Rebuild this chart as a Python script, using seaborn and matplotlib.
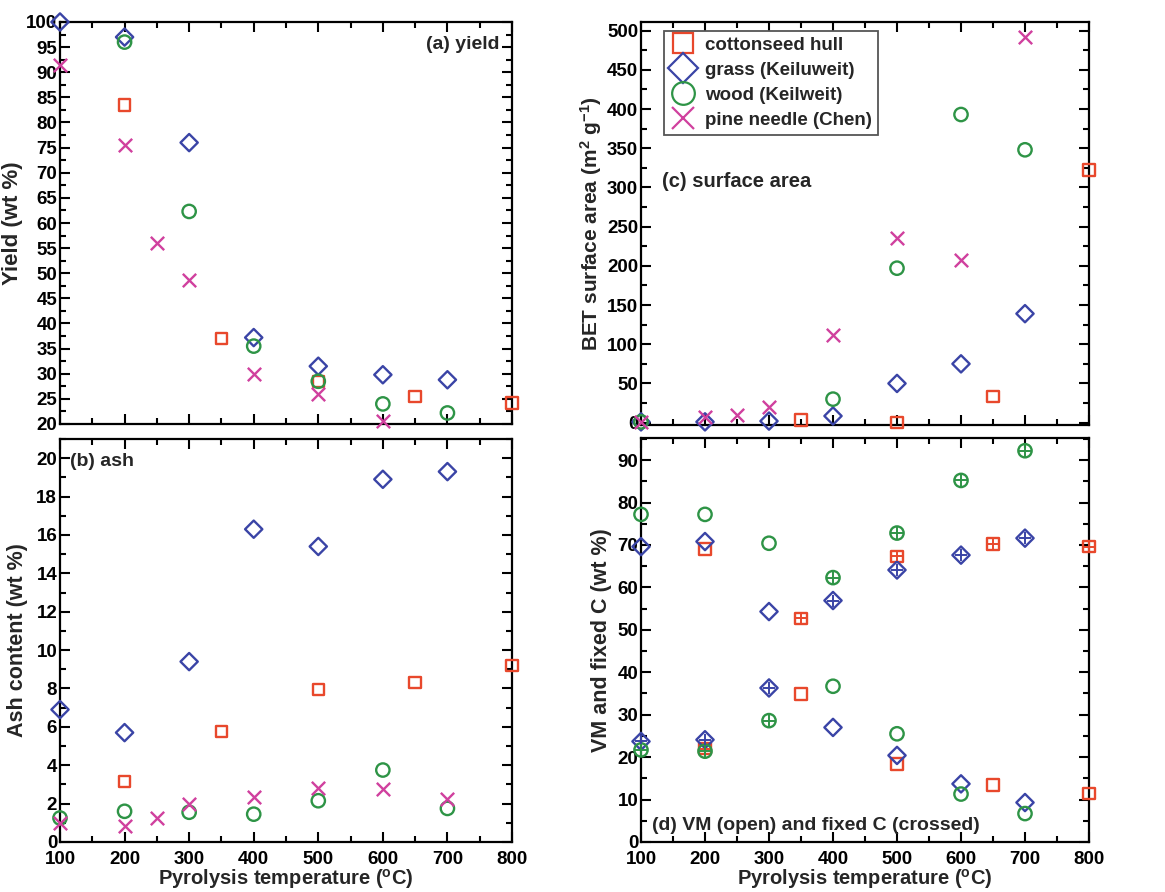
import numpy as np
import pandas as pd
import matplotlib
matplotlib.use("Agg")
import matplotlib.pyplot as plt
from matplotlib.ticker import MultipleLocator
from matplotlib.lines import Line2D
import seaborn as sns

# ---------------- data ----------------
materials = ["cottonseed hull", "grass (Keiluweit)", "wood (Keilweit)", "pine needle (Chen)"]

# (a) yield
cotton_T_yield = [200, 350, 500, 650, 800]
cotton_yield = [83.5, 37.0, 28.5, 25.5, 24.2]
grass_T_yield = [100, 200, 300, 400, 500, 600, 700]
grass_yield = [100.0, 97.0, 76.0, 37.2, 31.5, 29.8, 28.8]
wood_T_yield = [200, 300, 400, 500, 600, 700]
wood_yield = [96.0, 62.3, 35.5, 28.5, 24.0, 22.2]
pine_T_yield = [100, 200, 250, 300, 400, 500, 600]
pine_yield = [91.5, 75.5, 56.0, 48.7, 30.0, 26.0, 20.5]

# (b) ash
cotton_T_ash = [200, 350, 500, 650, 800]
cotton_ash = [3.15, 5.75, 7.95, 8.3, 9.2]
grass_T_ash = [100, 200, 300, 400, 500, 600, 700]
grass_ash = [6.9, 5.7, 9.4, 16.3, 15.4, 18.9, 19.3]
wood_T_ash = [100, 200, 300, 400, 500, 600, 700]
wood_ash = [1.25, 1.6, 1.55, 1.45, 2.15, 3.75, 1.75]
pine_T_ash = [100, 200, 250, 300, 400, 500, 600, 700]
pine_ash = [1.0, 0.85, 1.25, 2.0, 2.35, 2.8, 2.75, 2.25]

# (c) surface area
cotton_T_sa = [350, 500, 650, 800]
cotton_sa = [3.5, 0.0, 33.0, 322.0]
grass_T_sa = [100, 200, 300, 400, 500, 600, 700]
grass_sa = [1.0, 1.0, 2.0, 8.5, 50.0, 75.0, 139.0]
wood_T_sa = [100, 400, 500, 600, 700]
wood_sa = [1.0, 30.0, 197.0, 393.0, 348.0]
pine_T_sa = [100, 200, 250, 300, 400, 500, 600, 700]
pine_sa = [1.0, 7.0, 9.5, 20.0, 112.0, 236.0, 207.0, 492.0]

# (d) volatile matter (open) and fixed carbon (crossed)
cotton_T_vm = [200, 350, 500, 650, 800]
cotton_vm = [69.0, 34.9, 18.4, 13.4, 11.5]
cotton_fc = [22.0, 52.7, 67.3, 70.2, 69.6]
grass_T_vm = [100, 200, 300, 400, 500, 600, 700]
grass_vm = [69.6, 70.8, 54.3, 27.0, 20.4, 13.7, 9.3]
grass_fc = [23.7, 24.1, 36.3, 56.9, 64.1, 67.6, 71.6]
wood_T_vm = [100, 200, 300, 400, 500, 600, 700]
wood_vm = [77.2, 77.2, 70.4, 36.7, 25.5, 11.3, 6.7]
wood_fc = [21.7, 21.4, 28.6, 62.3, 72.8, 85.2, 92.2]

x_ticks = [100, 200, 300, 400, 500, 600, 700, 800]

# ---------------- style ----------------
colors = {materials[0]: "#E8482C", materials[1]: "#3A44A6",
          materials[2]: "#2E9446", materials[3]: "#D0409E"}
markers = {materials[0]: "s", materials[1]: "D", materials[2]: "o", materials[3]: "x"}
msize = {materials[0]: 8.2, materials[1]: 8.8, materials[2]: 9.6, materials[3]: 9.6}
plus_size = {materials[0]: 7.5, materials[1]: 9.0, materials[2]: 8.5}

sns.set_theme(style="ticks")
plt.rcParams["font.family"] = ["Liberation Sans", "DejaVu Sans"]
plt.rcParams["font.weight"] = "bold"
plt.rcParams["axes.labelweight"] = "bold"
plt.rcParams["mathtext.fontset"] = "custom"
plt.rcParams["mathtext.rm"] = "Liberation Sans:bold"
plt.rcParams["mathtext.bf"] = "Liberation Sans:bold"
plt.rcParams["mathtext.default"] = "bf"

fig = plt.figure(figsize=(11.65, 8.92), dpi=100)
W, H = 1165, 892


def axes_px(l, t, r, b):
    return fig.add_axes([l / W, 1 - b / H, (r - l) / W, (b - t) / H])


ax_a = axes_px(60, 22, 512, 424)
ax_b = axes_px(60, 439, 512, 842)
ax_c = axes_px(641, 22, 1089, 425)
ax_d = axes_px(641, 438, 1089, 842)


def frame(panel):
    df = []
    for mat, (T, v) in panel.items():
        df.append(pd.DataFrame({"T": T, "value": v, "material": mat}))
    return pd.concat(df, ignore_index=True)


def draw_open(ax, df, lw=1.7):
    for mat in materials:
        sub = df[df["material"] == mat]
        if sub.empty:
            continue
        m = markers[mat]
        kw = dict(x="T", y="value", data=sub, ax=ax, marker=m,
                  s=msize[mat] ** 2, linewidth=lw, clip_on=False, zorder=3, legend=False)
        if m == "x":
            sns.scatterplot(color=colors[mat], **kw)
        else:
            sns.scatterplot(color=colors[mat], facecolor="none",
                            edgecolor=colors[mat], **kw)


def draw_plus(ax, df):
    for mat in materials:
        sub = df[df["material"] == mat]
        if sub.empty:
            continue
        sns.scatterplot(x="T", y="value", data=sub, ax=ax, marker="+",
                        s=plus_size[mat] ** 2, color=colors[mat], linewidth=1.4,
                        clip_on=False, zorder=4, legend=False)


df_a = frame({materials[0]: (cotton_T_yield, cotton_yield),
              materials[1]: (grass_T_yield, grass_yield),
              materials[2]: (wood_T_yield, wood_yield),
              materials[3]: (pine_T_yield, pine_yield)})
df_b = frame({materials[0]: (cotton_T_ash, cotton_ash),
              materials[1]: (grass_T_ash, grass_ash),
              materials[2]: (wood_T_ash, wood_ash),
              materials[3]: (pine_T_ash, pine_ash)})
df_c = frame({materials[0]: (cotton_T_sa, cotton_sa),
              materials[1]: (grass_T_sa, grass_sa),
              materials[2]: (wood_T_sa, wood_sa),
              materials[3]: (pine_T_sa, pine_sa)})
df_vm = frame({materials[0]: (cotton_T_vm, cotton_vm),
               materials[1]: (grass_T_vm, grass_vm),
               materials[2]: (wood_T_vm, wood_vm)})
df_fc = frame({materials[0]: (cotton_T_vm, cotton_fc),
               materials[1]: (grass_T_vm, grass_fc),
               materials[2]: (wood_T_vm, wood_fc)})

draw_open(ax_a, df_a)
draw_open(ax_b, df_b)
draw_open(ax_c, df_c)
draw_open(ax_d, df_vm)
draw_open(ax_d, df_fc)
draw_plus(ax_d, df_fc)

TICKFS = 13.5


def style_axis(ax, ylim, ymaj, ymin, show_x):
    ax.set_xlim(100, 800)
    ax.set_ylim(*ylim)
    ax.set_xticks(x_ticks)
    ax.xaxis.set_minor_locator(MultipleLocator(50))
    ax.yaxis.set_major_locator(MultipleLocator(ymaj))
    ax.yaxis.set_minor_locator(MultipleLocator(ymin))
    ax.tick_params(which="both", direction="in", top=True, right=True,
                   width=1.5, colors="black", labelsize=TICKFS)
    ax.tick_params(axis="y", pad=2)
    ax.tick_params(axis="x", pad=6.5)
    ax.tick_params(which="major", length=7)
    ax.tick_params(which="minor", length=4.5)
    for sp in ax.spines.values():
        sp.set_visible(True)
        sp.set_linewidth(1.6)
        sp.set_color("black")
    if show_x:
        ax.set_xlabel(r"Pyrolysis temperature ($^{o}$C)", fontsize=14.5, labelpad=-1)
    else:
        ax.set_xlabel("")
        ax.tick_params(labelbottom=False)
    for lab in ax.get_xticklabels() + ax.get_yticklabels():
        lab.set_fontweight("bold")


style_axis(ax_a, (20, 100), 5, 2.5, False)
style_axis(ax_b, (0, 21), 2, 1, True)
style_axis(ax_c, (-3, 511), 50, 25, False)
style_axis(ax_d, (0, 95.2), 10, 5, True)

ax_a.set_ylabel("Yield (wt %)", fontsize=16, labelpad=2)
ax_b.set_ylabel("Ash content (wt %)", fontsize=15.5, labelpad=6)
ax_c.set_ylabel(r"BET surface area (m$^{2}$ g$^{-1}$)", fontsize=15, labelpad=2)
ax_d.set_ylabel("VM and fixed C (wt %)", fontsize=15.5, labelpad=4)

ax_a.text(0.973, 0.945, "(a) yield", transform=ax_a.transAxes, ha="right",
          va="center", fontsize=14, fontweight="bold")
ax_b.text(0.022, 0.943, "(b) ash", transform=ax_b.transAxes, ha="left",
          va="center", fontsize=14, fontweight="bold")
ax_c.text(0.047, 0.603, "(c) surface area", transform=ax_c.transAxes, ha="left",
          va="center", fontsize=14.5, fontweight="bold")
ax_d.text(0.025, 0.042, "(d) VM (open) and fixed C (crossed)", transform=ax_d.transAxes,
          ha="left", va="center", fontsize=14, fontweight="bold")

handles = []
for mat in materials:
    m = markers[mat]
    handles.append(Line2D([], [], linestyle="none", marker=m, markersize=msize[mat] * 1.7,
                          markerfacecolor="none", markeredgecolor=colors[mat],
                          color=colors[mat], markeredgewidth=1.6, label=mat))
leg = ax_c.legend(handles=handles, loc="upper left", bbox_to_anchor=(0.051, 0.977),
                  borderaxespad=0, fancybox=False, framealpha=1, edgecolor="#555555",
                  prop={"size": 13.5, "weight": "bold"}, handletextpad=0.5,
                  labelspacing=0.42, borderpad=0.3, handlelength=1.4)
leg.get_frame().set_linewidth(1.3)

fig.savefig("out.png", dpi=100)
